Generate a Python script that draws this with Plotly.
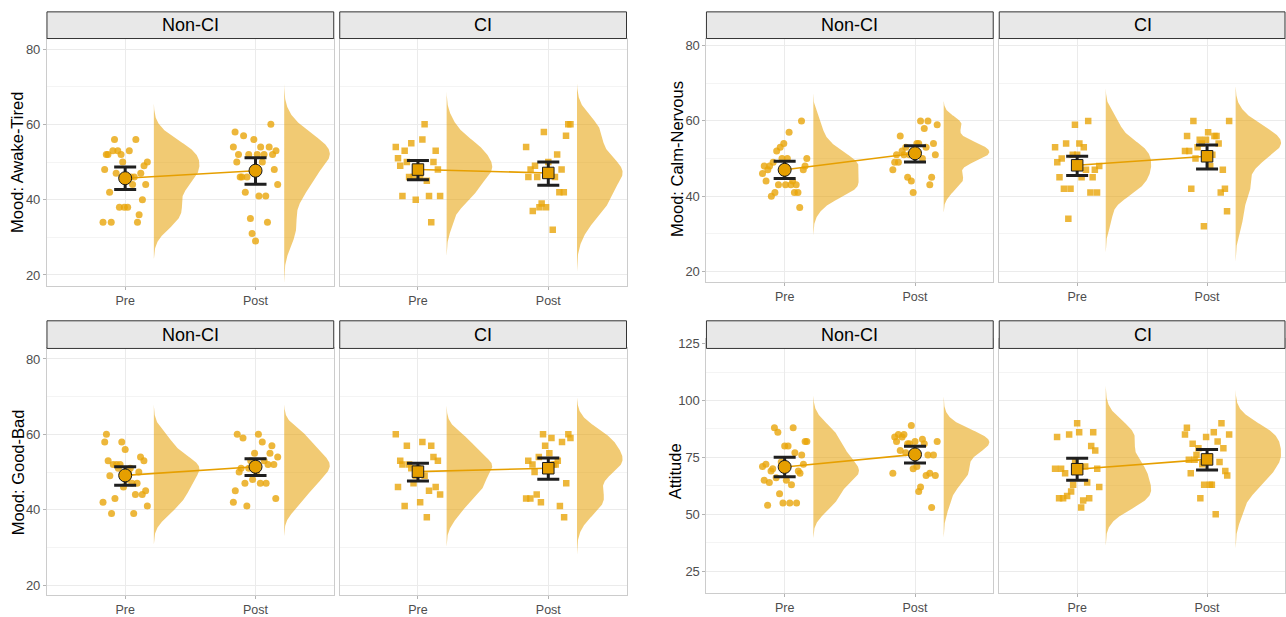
import numpy as np
import plotly.graph_objects as go

W, H = 1286, 617
times = ["Pre", "Post"]
groups = ["Non-CI", "CI"]
measures = ["Mood: Awake-Tired", "Mood: Calm-Nervous", "Mood: Good-Bad", "Attitude"]

# ---------------- data ----------------
awake_noncl_pre = [56, 56, 53, 52, 53, 53, 52, 52, 50, 50, 49, 48, 47, 46, 46, 44, 44, 42, 40, 38, 38, 38, 36, 34, 34, 34, 45, 47]
awake_noncl_post = [60, 57, 58, 54, 54, 54, 56, 53, 52, 52, 52, 52, 52, 50, 50, 48, 46, 46, 46, 44, 42, 41, 41, 35, 34, 31, 29]
awake_ci_pre = [60, 56, 55, 54, 53, 53, 51, 50, 50, 48, 46, 46, 45, 46, 41, 40, 41, 41, 34, 49, 48]
awake_ci_post = [60, 60, 58, 57, 54, 52, 50, 49, 48, 46, 46, 46, 42, 42, 39, 38, 38, 37, 32, 47, 48]

calm_noncl_pre = [60, 57, 54, 53, 52, 50, 50, 50, 49, 48, 48, 47, 46, 44, 44, 43, 43, 43, 43, 41, 41, 41, 40, 37, 47, 48]
calm_noncl_post = [60, 60, 59, 58, 56, 54, 54, 54, 53, 53, 51, 52, 51, 51, 50, 49, 49, 47, 45, 45, 44, 43, 41, 52, 51]
calm_ci_pre = [60, 59, 54, 54, 53, 53, 50, 51, 51, 47, 47, 45, 45, 45, 42, 41, 42, 41, 34, 48, 49]
calm_ci_post = [60, 60, 57, 56, 55, 56, 56, 55, 54, 54, 52, 52, 53, 48, 47, 42, 42, 41, 36, 32, 51, 50]

good_noncl_pre = [60, 58, 58, 56, 54, 53, 53, 52, 52, 52, 51, 51, 50, 48, 47, 47, 46, 45, 44, 44, 43, 42, 41, 39, 39, 49, 50]
good_noncl_post = [60, 60, 59, 58, 57, 55, 55, 54, 53, 53, 52, 51, 50, 48, 47, 47, 47, 45, 43, 42, 41, 52, 51, 50]
good_ci_pre = [60, 58, 57, 57, 54, 53, 53, 52, 51, 49, 49, 47, 46, 46, 45, 44, 42, 41, 38, 51, 52]
good_ci_post = [60, 60, 59, 59, 58, 57, 55, 54, 53, 52, 52, 52, 53, 47, 43, 44, 43, 42, 41, 38, 50, 51]

att_noncl_pre = [88, 88, 86, 82, 82, 80, 80, 77, 76, 73, 72, 71, 69, 69, 68, 66, 65, 65, 64, 63, 59, 55, 55, 55, 54, 70, 72]
att_noncl_post = [89, 85, 85, 84, 84, 83, 82, 82, 82, 81, 81, 81, 77, 76, 71, 70, 68, 68, 67, 67, 62, 60, 53, 78, 76]
att_ci_pre = [90, 86, 86, 85, 84, 80, 78, 73, 71, 70, 70, 64, 63, 62, 60, 58, 57, 57, 57, 56, 53, 68, 70]
att_ci_post = [90, 88, 86, 85, 85, 84, 82, 81, 79, 79, 76, 74, 73, 72, 69, 68, 67, 63, 63, 63, 57, 50, 75, 74]

# means and 95% CI limits: [group][time]
awake_mean = [[45.7, 47.7], [48.0, 47.1]]
awake_lo = [[42.7, 44.1], [45.3, 43.8]]
awake_hi = [[48.7, 51.1], [50.4, 50.0]]
calm_mean = [[47.0, 51.4], [48.2, 50.6]]
calm_lo = [[44.7, 49.1], [45.5, 47.2]]
calm_hi = [[49.3, 53.4], [50.6, 53.6]]
good_mean = [[49.1, 51.4], [50.1, 51.0]]
good_lo = [[46.5, 49.1], [47.6, 48.1]]
good_hi = [[51.4, 53.5], [52.3, 53.7]]
att_mean = [[70.8, 76.3], [69.8, 74.1]]
att_lo = [[66.5, 72.5], [65.0, 69.5]]
att_hi = [[75.1, 79.9], [74.6, 78.5]]

y_ticks_mood = [20, 40, 60, 80]
y_minor_mood = [30, 50, 70]
y_ticks_att = [25, 50, 75, 100, 125]
y_minor_att = [37.5, 62.5, 87.5, 112.5]

# ---------------- assemble ----------------
raw = {
    0: ([[awake_noncl_pre, awake_noncl_post], [awake_ci_pre, awake_ci_post]], awake_mean, awake_lo, awake_hi),
    1: ([[calm_noncl_pre, calm_noncl_post], [calm_ci_pre, calm_ci_post]], calm_mean, calm_lo, calm_hi),
    2: ([[good_noncl_pre, good_noncl_post], [good_ci_pre, good_ci_post]], good_mean, good_lo, good_hi),
    3: ([[att_noncl_pre, att_noncl_post], [att_ci_pre, att_ci_post]], att_mean, att_lo, att_hi),
}

# layout geometry in pixels
geo = {
    0: dict(xl=47, st=10, pt=37, pb=288, yr=[17.0, 82.8], tx=17.5, ty=162.5, ticks=y_ticks_mood, minor=y_minor_mood),
    1: dict(xl=707, st=10, pt=37, pb=284, yr=[17.1, 81.9], tx=677.5, ty=159, ticks=y_ticks_mood, minor=y_minor_mood),
    2: dict(xl=47, st=323, pt=351, pb=601, yr=[17.3, 82.8], tx=17.5, ty=476, ticks=y_ticks_mood, minor=y_minor_mood),
    3: dict(xl=707, st=323, pt=341, pb=599, yr=[15.3, 127.2], tx=675, ty=475, ticks=y_ticks_att, minor=y_minor_att),
}
strip_bottom = {0: 37, 1: 37, 2: 351, 3: 351}
panel_w = 287
panel_gap = 6

ORANGE = "#E69F00"
PT_COL = "rgba(232,165,10,0.8)"
VIO_COL = "rgba(230,159,0,0.55)"
FONT = "Liberation Sans, Arial, Helvetica, sans-serif"

rng = np.random.default_rng(5)


def nrd0(x):
    x = np.asarray(x, float)
    sd = x.std(ddof=1)
    iqr = np.subtract(*np.percentile(x, [75, 25]))
    lo = min(sd, iqr / 1.34) if iqr > 0 else sd
    return 0.9 * lo * len(x) ** (-0.2)


def kde(x):
    x = np.asarray(x, float)
    bw = nrd0(x)
    grid = np.linspace(x.min() - 3 * bw, x.max() + 3 * bw, 256)
    d = np.exp(-0.5 * ((grid[:, None] - x[None, :]) / bw) ** 2).sum(axis=1)
    return grid, d / d.max()


def jitter(n, half=0.17):
    # stratified horizontal jitter: evenly spread slots in random order
    slots = np.linspace(-half, half, n)
    return rng.permutation(slots)


fig = go.Figure()
layout = dict(
    width=W, height=H, margin=dict(l=0, r=0, t=0, b=0),
    paper_bgcolor="white", plot_bgcolor="white", showlegend=False,
    font=dict(family=FONT),
)
shapes, annotations = [], []

ax = 0
for m in range(4):
    g = geo[m]
    series, means, los, his = raw[m]
    for gi in range(2):
        ax += 1
        xs = "x" if ax == 1 else f"x{ax}"
        ys = "y" if ax == 1 else f"y{ax}"
        xl = g["xl"] + gi * (panel_w + panel_gap)
        xr = min(xl + panel_w, W)
        xdom = [xl / W, xr / W]
        ydom = [1 - g["pb"] / H, 1 - g["pt"] / H]
        sym = "circle" if gi == 0 else "square"

        for ti in range(2):
            vals = series[gi][ti]
            xc = ti + 1
            grid, d = kde(vals)
            base = xc + 0.22
            vx = np.concatenate([base + 0.35 * d, [base, base]])
            vy = np.concatenate([grid, [grid[-1], grid[0]]])
            fig.add_trace(go.Scatter(x=vx, y=vy, fill="toself", fillcolor=VIO_COL,
                                     line=dict(width=0), mode="lines", hoverinfo="skip",
                                     xaxis=xs, yaxis=ys))
            fig.add_trace(go.Scatter(x=xc + jitter(len(vals)), y=vals, mode="markers",
                                     marker=dict(symbol=sym, size=7 if gi == 0 else 6.5, color=PT_COL,
                                                 line=dict(width=0)),
                                     xaxis=xs, yaxis=ys))
        mean = np.array(means[gi])
        lo = np.array(los[gi])
        hi = np.array(his[gi])
        fig.add_trace(go.Scatter(x=[1, 2], y=mean, mode="lines",
                                 line=dict(color=ORANGE, width=1.6), xaxis=xs, yaxis=ys))
        fig.add_trace(go.Scatter(
            x=[1, 2], y=mean, mode="markers",
            error_y=dict(type="data", symmetric=False, array=hi - mean, arrayminus=mean - lo,
                         color="#1f1f1f", thickness=3, width=11),
            marker=dict(symbol=sym, size=13 if gi == 0 else 11.5, color=ORANGE,
                        line=dict(color="#1a1a1a", width=1)),
            xaxis=xs, yaxis=ys))

        layout["xaxis" if ax == 1 else f"xaxis{ax}"] = dict(
            domain=xdom, anchor=ys, range=[0.4, 2.6], tickmode="array", tickvals=[1, 2],
            ticktext=times, showgrid=True, gridcolor="#EBEBEB", gridwidth=1,
            showline=True, linecolor="#CCCCCC", linewidth=1, mirror=True, zeroline=False,
            ticks="outside", ticklen=3, tickcolor="#B3B3B3",
            tickfont=dict(size=12.5, color="#4D4D4D", family=FONT), fixedrange=True)
        layout["yaxis" if ax == 1 else f"yaxis{ax}"] = dict(
            domain=ydom, anchor=xs, range=g["yr"], tickmode="array", tickvals=g["ticks"],
            showticklabels=(gi == 0), ticks="outside" if gi == 0 else "", ticklen=3,
            tickcolor="#B3B3B3", showgrid=True, gridcolor="#EBEBEB", gridwidth=1,
            minor=dict(tickmode="array", tickvals=g["minor"], showgrid=True,
                       gridcolor="#F4F4F4", gridwidth=1, ticks=""),
            showline=True, linecolor="#CCCCCC", linewidth=1, mirror=True, zeroline=False,
            tickfont=dict(size=13, color="#4D4D4D", family=FONT), fixedrange=True)

        sb = strip_bottom[m]
        shapes.append(dict(type="rect", xref="paper", yref="paper", layer="above",
                           x0=xl / W, x1=xr / W, y0=1 - sb / H, y1=1 - g["st"] / H,
                           fillcolor="#E8E8E8", line=dict(color="#333333", width=1)))
        annotations.append(dict(xref="paper", yref="paper", x=(xl + xl + panel_w) / 2 / W,
                                y=1 - (g["st"] + sb) / 2 / H, text=groups[gi], showarrow=False,
                                font=dict(size=18, color="black", family=FONT),
                                xanchor="center", yanchor="middle"))

    annotations.append(dict(xref="paper", yref="paper", x=g["tx"] / W, y=1 - g["ty"] / H,
                            text=measures[m], textangle=-90, showarrow=False,
                            font=dict(size=16.5, color="black", family=FONT),
                            xanchor="center", yanchor="middle"))

layout["shapes"] = shapes
layout["annotations"] = annotations
fig.update_layout(**layout)
fig.write_html("out.html", config={"displayModeBar": False, "staticPlot": True},
               post_script="document.body.style.margin='0';document.body.style.overflow='hidden';")
